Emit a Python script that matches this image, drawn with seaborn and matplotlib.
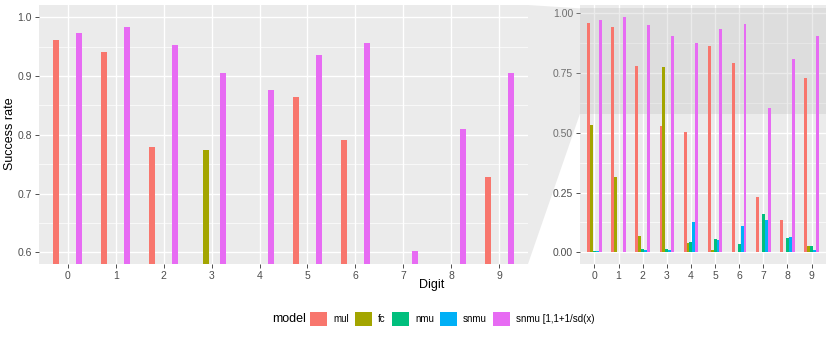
import pandas as pd
import matplotlib
matplotlib.use("Agg")
import matplotlib.pyplot as plt
import seaborn as sns
from matplotlib.patches import Patch, Polygon

plt.rcParams["font.family"] = ["Liberation Sans", "DejaVu Sans"]

# Data
digits = [str(d) for d in range(10)]
models = ["mul", "fc", "nmu", "snmu", "snmu [1,1+1/sd(x)"]
mul = [0.961, 0.941, 0.780, 0.530, 0.505, 0.865, 0.791, 0.230, 0.135, 0.728]
fc = [0.533, 0.314, 0.070, 0.774, 0.038, 0.010, 0.000, 0.003, 0.002, 0.028]
nmu = [0.005, 0.003, 0.014, 0.014, 0.042, 0.054, 0.033, 0.162, 0.060, 0.028]
snmu = [0.004, 0.002, 0.011, 0.010, 0.128, 0.050, 0.110, 0.136, 0.064, 0.011]
snmu_sd = [0.974, 0.983, 0.953, 0.905, 0.876, 0.936, 0.957, 0.602, 0.810, 0.906]
colors = ["#F8766D", "#A3A500", "#00BF7D", "#00B0F6", "#E76BF3"]

# long format for seaborn
rows = []
for m, vals in zip(models, [mul, fc, nmu, snmu, snmu_sd]):
    for d, v in zip(digits, vals):
        rows.append({"Digit": d, "model": m, "rate": v})
df = pd.DataFrame(rows)
palette = dict(zip(models, colors))

zoom_lo, zoom_hi = 0.58, 1.021

fig = plt.figure(figsize=(8.3, 3.39), dpi=100)
W, H = 830, 339
ax_l = fig.add_axes([39 / W, 1 - 264 / H, (528 - 39) / W, (264 - 5) / H])
ax_r = fig.add_axes([580 / W, 1 - 264 / H, (826 - 580) / W, (264 - 5) / H])


def style(ax, yticks, ylabels, minor, ylim):
    ax.set_facecolor("#EBEBEB")
    for s in ax.spines.values():
        s.set_visible(False)
    ax.set_xlim(-0.6, 9.6)
    ax.set_ylim(*ylim)
    ax.set_yticks(yticks)
    ax.set_yticklabels(ylabels)
    ax.set_xticks(range(10))
    ax.set_xticklabels(digits)
    for y in minor:
        ax.axhline(y, color="white", lw=0.5, zorder=0.5)
    for y in yticks:
        ax.axhline(y, color="white", lw=1.0, zorder=0.6)
    for x in range(10):
        ax.axvline(x, color="white", lw=1.0, zorder=0.6)
    ax.tick_params(length=3, width=0.6, color="#333333", labelsize=7.5,
                   labelcolor="#4D4D4D", pad=2)
    ax.set_xlabel("")
    ax.set_ylabel("")


for ax in (ax_l, ax_r):
    sns.barplot(data=df, x="Digit", y="rate", hue="model", hue_order=models,
                order=digits, palette=palette, saturation=1, width=0.6,
                errorbar=None, legend=False, ax=ax, zorder=2, linewidth=0)

style(ax_l, [0.6, 0.7, 0.8, 0.9, 1.0], ["0.6", "0.7", "0.8", "0.9", "1.0"],
      [0.65, 0.75, 0.85, 0.95], (zoom_lo, zoom_hi))
style(ax_r, [0, 0.25, 0.5, 0.75, 1.0], ["0.00", "0.25", "0.50", "0.75", "1.00"],
      [0.125, 0.375, 0.625, 0.875], (-0.049, 1.035))

# zoom indicator in full panel
ax_r.axhspan(zoom_lo, zoom_hi, color="#BEBEBE", alpha=0.3, lw=0, zorder=1)

# connector between panels
to_fig = fig.transFigure.inverted()
p_top = to_fig.transform(ax_r.transData.transform((-0.6, zoom_hi)))
p_bot = to_fig.transform(ax_r.transData.transform((-0.6, zoom_lo)))
l_top = to_fig.transform(ax_l.transData.transform((9.6, zoom_hi)))
l_bot = to_fig.transform(ax_l.transData.transform((9.6, zoom_lo)))
poly = Polygon([l_top, p_top, p_bot, l_bot], closed=True, transform=fig.transFigure,
               facecolor="#BEBEBE", alpha=0.3, edgecolor="none", zorder=0)
fig.patches.append(poly)

fig.text(432 / W, 1 - 285 / H, "Digit", ha="center", va="center", fontsize=9)
fig.text(10 / W, 1 - 134 / H, "Success rate", ha="center", va="center",
         rotation=90, fontsize=9)

handles = [Patch(facecolor=c, edgecolor="none") for c in colors]
fig.text(272 / W, 1 - 319 / H, "model", ha="left", va="center", fontsize=9)
fig.legend(handles, models, loc="center left", bbox_to_anchor=(310 / W, 1 - 319 / H),
           ncol=5, frameon=False, fontsize=7, handlelength=1.75, handleheight=1.75,
           handletextpad=0.65, columnspacing=0.6, borderpad=0, borderaxespad=0)

fig.savefig("out.png", dpi=100)
